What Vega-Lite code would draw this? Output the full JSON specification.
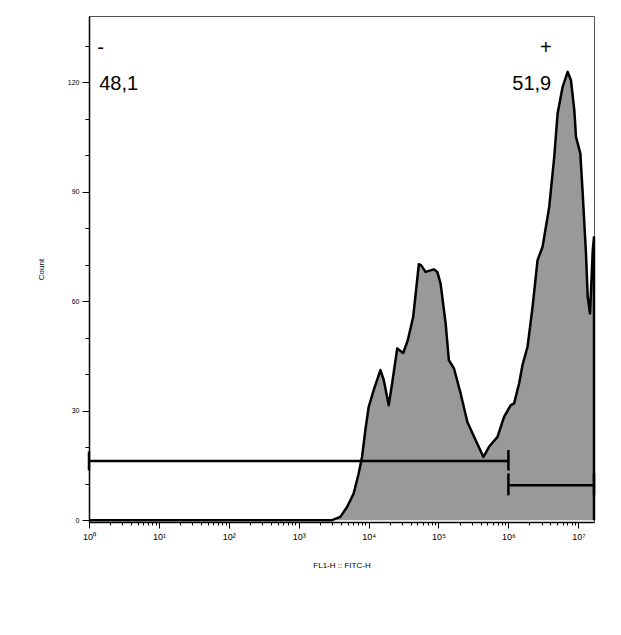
{
  "$schema": "https://vega.github.io/schema/vega-lite/v6.json",
  "width": 505,
  "height": 506,
  "autosize": "none",
  "padding": {"left": 89, "top": 16, "right": 27, "bottom": 113},
  "background": "white",
  "config": {
    "font": "Liberation Sans",
    "view": {"stroke": "#555555", "strokeWidth": 1}
  },
  "datasets": {
    "hist": [
      {"i": 0, "x": 1, "y": 0},
      {"i": 1, "x": 2992, "y": 0},
      {"i": 2, "x": 3936, "y": 0.9},
      {"i": 3, "x": 4920, "y": 3.6},
      {"i": 4, "x": 6109, "y": 7.3},
      {"i": 5, "x": 7211, "y": 12.8},
      {"i": 6, "x": 8072, "y": 17.4},
      {"i": 7, "x": 8995, "y": 24.7},
      {"i": 8, "x": 10023, "y": 31},
      {"i": 9, "x": 11830, "y": 35.6},
      {"i": 10, "x": 14757, "y": 41.1},
      {"i": 11, "x": 16482, "y": 38.4},
      {"i": 12, "x": 19409, "y": 31.5},
      {"i": 13, "x": 21727, "y": 37.5},
      {"i": 14, "x": 25645, "y": 47},
      {"i": 15, "x": 31261, "y": 45.8},
      {"i": 16, "x": 36392, "y": 49.3},
      {"i": 17, "x": 43451, "y": 55.7},
      {"i": 18, "x": 52360, "y": 70.1},
      {"i": 19, "x": 56624, "y": 69.8},
      {"i": 20, "x": 65313, "y": 68},
      {"i": 21, "x": 85901, "y": 68.7},
      {"i": 22, "x": 96161, "y": 68},
      {"i": 23, "x": 107152, "y": 64.8},
      {"i": 24, "x": 126474, "y": 53.9},
      {"i": 25, "x": 140929, "y": 43.8},
      {"i": 26, "x": 166341, "y": 41.6},
      {"i": 27, "x": 207491, "y": 34.7},
      {"i": 28, "x": 258821, "y": 26.9},
      {"i": 29, "x": 340408, "y": 21.9},
      {"i": 30, "x": 439542, "y": 17.3},
      {"i": 31, "x": 528445, "y": 20.1},
      {"i": 32, "x": 698232, "y": 22.8},
      {"i": 33, "x": 866962, "y": 28.3},
      {"i": 34, "x": 1081434, "y": 31.5},
      {"i": 35, "x": 1207814, "y": 32},
      {"i": 36, "x": 1425608, "y": 37.5},
      {"i": 37, "x": 1592209, "y": 42.5},
      {"i": 38, "x": 1879317, "y": 47.5},
      {"i": 39, "x": 2218196, "y": 58.4},
      {"i": 40, "x": 2612161, "y": 71.2},
      {"i": 41, "x": 3083188, "y": 74.9},
      {"i": 42, "x": 3837072, "y": 85.8},
      {"i": 43, "x": 4528976, "y": 99.5},
      {"i": 44, "x": 5058247, "y": 111.4},
      {"i": 45, "x": 5970353, "y": 118.7},
      {"i": 46, "x": 7046931, "y": 122.8},
      {"i": 47, "x": 7852356, "y": 120.5},
      {"i": 48, "x": 8769698, "y": 112.3},
      {"i": 49, "x": 9268298, "y": 105},
      {"i": 50, "x": 10690786, "y": 100.5},
      {"i": 51, "x": 11561122, "y": 89.5},
      {"i": 52, "x": 12882496, "y": 73},
      {"i": 53, "x": 13645831, "y": 61.2},
      {"i": 54, "x": 14723126, "y": 56.6},
      {"i": 55, "x": 16106127, "y": 74},
      {"i": 56, "x": 16777215, "y": 77.5},
      {"i": 57, "x": 16777215, "y": 0}
    ],
    "gates": [
      {"gate": "-", "x": 1, "x2": 1000000, "y": 16.2},
      {"gate": "+", "x": 1000000, "x2": 16777215, "y": 9.6}
    ],
    "caps": [
      {"x": 1, "y": 13.6, "y2": 18.8},
      {"x": 1000000, "y": 13.6, "y2": 19.2},
      {"x": 1000000, "y": 6.8, "y2": 12.8},
      {"x": 16777215, "y": 6.8, "y2": 12.8}
    ],
    "labels": [
      {"x": 1.47, "y": 129.3, "text": "-"},
      {"x": 2.66, "y": 119.5, "text": "48,1"},
      {"x": 3440000, "y": 129.3, "text": "+"},
      {"x": 2160000, "y": 119.5, "text": "51,9"}
    ]
  },
  "layer": [
    {
      "data": {"name": "hist"},
      "mark": {"type": "area", "color": "#999999", "opacity": 1},
      "encoding": {
        "x": {
          "field": "x",
          "type": "quantitative",
          "scale": {"type": "log", "domain": [1, 16777215], "nice": false},
          "axis": {
            "values": [1,2,3,4,5,6,7,8,9,10,20,30,40,50,60,70,80,90,100,200,300,400,500,600,700,800,900,1000,2000,3000,4000,5000,6000,7000,8000,9000,10000,20000,30000,40000,50000,60000,70000,80000,90000,100000,200000,300000,400000,500000,600000,700000,800000,900000,1000000,2000000,3000000,4000000,5000000,6000000,7000000,8000000,9000000,10000000],
            "tickCount": 500,
            "labelExpr": "abs(log(datum.value)/LN10 - round(log(datum.value)/LN10)) < 0.001 ? '10' + ['⁰','¹','²','³','⁴','⁵','⁶','⁷'][round(log(datum.value)/LN10)] : ''",
            "tickSize": {"condition": {"test": "abs(log(datum.value)/LN10 - round(log(datum.value)/LN10)) < 0.001", "value": 6}, "value": 3},
            "tickColor": "black",
            "tickWidth": 1,
            "domainColor": "black",
            "domainWidth": 1.5,
            "grid": false,
            "labelFontSize": 9,
            "labelColor": "black",
            "labelPadding": 4,
            "labelFlush": false,
            "labelOverlap": false,
            "title": "FL1-H :: FITC-H",
            "titleFontSize": 8,
            "titleFontWeight": "normal",
            "titleColor": "black",
            "titlePadding": 20
          }
        },
        "y": {
          "field": "y",
          "type": "quantitative",
          "scale": {"domain": [-0.5, 138.1], "nice": false, "zero": false},
          "axis": {
            "values": [0,10,20,30,40,50,60,70,80,90,100,110,120,130],
            "tickCount": 500,
            "format": "d",
            "labelExpr": "datum.value % 30 == 0 ? datum.label : ''",
            "tickSize": {"condition": {"test": "datum.value % 30 == 0", "value": 7}, "value": 4},
            "tickColor": "black",
            "tickWidth": 1,
            "domainColor": "black",
            "domainWidth": 1.5,
            "grid": false,
            "labelFontSize": 7,
            "labelColor": "black",
            "labelPadding": 3,
            "labelOverlap": false,
            "title": "Count",
            "titleFontSize": 8,
            "titleFontWeight": "normal",
            "titleColor": "black",
            "titlePadding": 22
          }
        }
      }
    },
    {
      "data": {"name": "hist"},
      "mark": {"type": "line", "color": "black", "strokeWidth": 2.5, "strokeJoin": "round"},
      "encoding": {
        "x": {"field": "x", "type": "quantitative"},
        "y": {"field": "y", "type": "quantitative"},
        "order": {"field": "i", "type": "quantitative"}
      }
    },
    {
      "data": {"name": "gates"},
      "mark": {"type": "rule", "color": "black", "strokeWidth": 2.5},
      "encoding": {
        "x": {"field": "x", "type": "quantitative"},
        "x2": {"field": "x2"},
        "y": {"field": "y", "type": "quantitative"}
      }
    },
    {
      "data": {"name": "caps"},
      "mark": {"type": "rule", "color": "black", "strokeWidth": 2.5},
      "encoding": {
        "x": {"field": "x", "type": "quantitative"},
        "y": {"field": "y", "type": "quantitative"},
        "y2": {"field": "y2"}
      }
    },
    {
      "data": {"name": "labels"},
      "mark": {"type": "text", "color": "black", "fontSize": 20, "align": "center", "baseline": "middle"},
      "encoding": {
        "x": {"field": "x", "type": "quantitative"},
        "y": {"field": "y", "type": "quantitative"},
        "text": {"field": "text"}
      }
    }
  ]
}
